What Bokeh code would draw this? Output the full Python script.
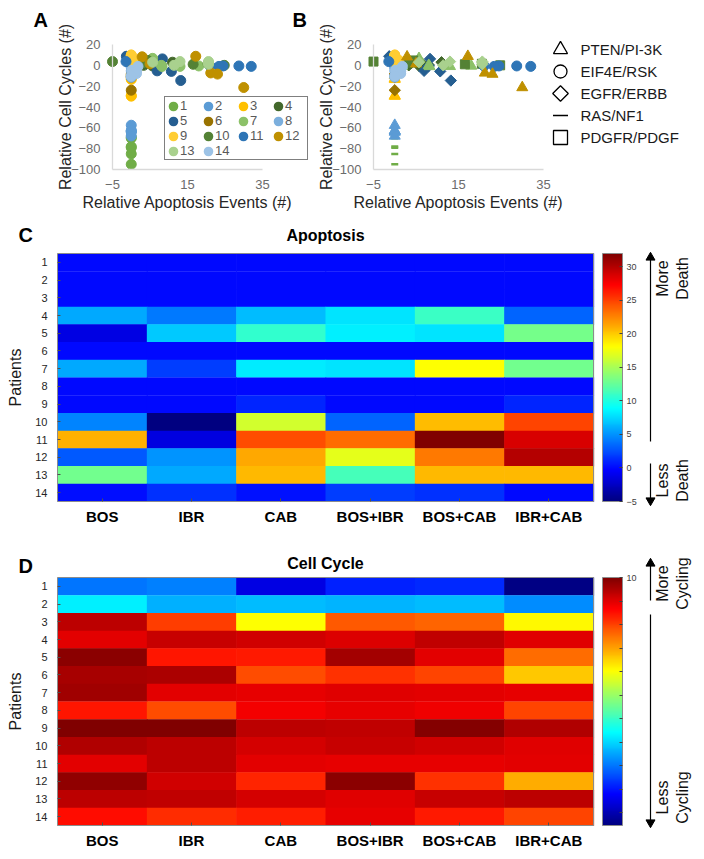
import numpy as np
from bokeh.plotting import figure
from bokeh.models import (Range1d, LinearColorMapper, Legend, LegendItem,
                          ColumnDataSource, FixedTicker, ColorBar)
from bokeh.layouts import row, column
from bokeh.transform import transform
from bokeh.core.properties import value
from bokeh.embed import file_html
from bokeh.resources import INLINE

FONT = "Liberation Sans"

# ---------------- data ----------------
treatments = ["BOS", "IBR", "CAB", "BOS+IBR", "BOS+CAB", "IBR+CAB"]
patients = [str(i) for i in range(1, 15)]

# relative apoptosis events (panel C, x of panels A/B)
apoptosis = [
    [0.0, 0.0, 0.0, 0.0, 0.0, 0.0],
    [0.0, 0.0, 0.0, 0.0, 0.0, 0.0],
    [0.0, 0.0, 0.0, 0.0, 0.0, 0.0],
    [5.7, 4.0, 6.5, 8.0, 11.0, 3.3],
    [-1.3, 6.9, 10.7, 8.3, 8.0, 13.2],
    [0.0, 0.0, 0.0, 0.0, 0.0, 0.0],
    [5.7, 1.8, 8.2, 8.0, 18.0, 13.0],
    [0.0, 0.0, 0.0, 0.0, 0.0, 0.0],
    [0.0, 0.0, 1.0, 0.0, 0.0, 1.0],
    [4.4, -5.0, 16.5, 3.3, 20.5, 24.8],
    [21.0, -1.4, 24.5, 23.4, 32.0, 28.7],
    [2.9, 5.0, 21.2, 17.2, 23.0, 30.0],
    [13.0, 5.7, 20.6, 11.4, 20.6, 20.6],
    [0.2, 1.4, 0.3, 1.8, 1.4, 0.0],
]

# relative cell cycles (panel D, y of panels A/B)
cell_cycle = [
    [-70.0, -69.0, -85.0, -79.0, -78.0, -95.0],
    [-57.5, -64.0, -62.7, -63.7, -62.7, -67.8],
    [3.6, -9.4, -29.6, -12.5, -13.5, -29.0],
    [-0.6, 2.5, 1.5, 0.4, 3.0, 0.0],
    [8.7, -5.3, -5.8, 6.2, -0.6, -14.6],
    [5.7, 5.2, -11.4, -8.4, -10.4, -23.9],
    [6.7, -0.6, -1.1, 0.0, -0.6, -1.0],
    [-5.3, -11.4, -2.1, -1.0, -1.6, -10.4],
    [10.0, 9.7, 3.6, 3.0, 9.2, 4.7],
    [4.7, 3.6, 1.0, 2.5, 1.5, 0.0],
    [-0.6, 3.6, -0.6, -1.0, -1.0, -0.6],
    [8.2, 1.5, -7.3, 8.7, -8.4, -21.3],
    [3.6, 3.0, 1.0, 0.0, 2.5, 3.6],
    [-4.8, -7.9, -6.3, -1.0, -5.8, -10.4],
]

patient_colors = ["#70AD47", "#5B9BD5", "#FFC000", "#43682B", "#255E91", "#997300",
                  "#8CC168", "#7CAFDD", "#FFCD33", "#548235", "#2E75B6", "#BF9000",
                  "#A9D18E", "#9DC3E6"]

pathway_names = ["PTEN/PI-3K", "EIF4E/RSK", "EGFR/ERBB", "RAS/NF1", "PDGFR/PDGF"]
pathway_markers = ["triangle", "circle", "diamond", "dash", "square"]
patient_pathway = ["RAS/NF1", "PTEN/PI-3K", "PTEN/PI-3K", "EGFR/ERBB", "EGFR/ERBB",
                   "EGFR/ERBB", "PTEN/PI-3K", "EIF4E/RSK", "EIF4E/RSK", "PDGFR/PDGF",
                   "EIF4E/RSK", "PTEN/PI-3K", "EGFR/ERBB", "EIF4E/RSK"]

scatter_x_limits = (-5, 35)
scatter_y_limits = (-100, 20)
scatter_x_ticks = [-5, 15, 35]
scatter_y_ticks = [-100, -80, -60, -40, -20, 0, 20]
apop_ticks = [-5, 0, 5, 10, 15, 20, 25, 30]
apop_limits = (-5, 32)
cycle_ticks = [10, 0, -10, -20, -30, -40, -50, -60, -70, -80, -90]
cycle_limits = (-95.5, 10)


def jet_palette(n=256):
    pal = []
    for k in range(n):
        t = k / (n - 1)
        r = min(max(1.5 - abs(4 * t - 3), 0), 1)
        g = min(max(1.5 - abs(4 * t - 2), 0), 1)
        b = min(max(1.5 - abs(4 * t - 1), 0), 1)
        pal.append("#%02x%02x%02x" % (int(round(r * 255)), int(round(g * 255)), int(round(b * 255))))
    return pal


JET = jet_palette()
# Excel-like marker drawing: (bokeh marker, angle, size in plot, size in key)
MARKER_STYLE = {"triangle": ("triangle", 0.0, 11, 14), "circle": ("circle", 0.0, 10, 13),
                "diamond": ("square", np.pi / 4, 8, 11), "dash": ("dash", 0.0, 7, 15),
                "square": ("square", 0.0, 9, 14)}
NAN = np.array([np.nan])


def span_range(v0, p0, v1, p1, P0, P1):
    """data value v0 sits at pixel p0 and v1 at p1; return data values at pixels P0, P1"""
    k = (v1 - v0) / (p1 - p0)
    return v0 + (P0 - p0) * k, v0 + (P1 - p0) * k


def canvas(x0, y0, w, h, data_box, limits_x, limits_y):
    """figure whose frame fills its whole canvas; data_box = (left, right, top, bottom) page px"""
    L, R, T, B = data_box
    xs, xe = span_range(limits_x[0], L, limits_x[1], R, x0, x0 + w)
    yt, yb = span_range(limits_y[1], T, limits_y[0], B, y0, y0 + h)
    p = figure(width=w, height=h, x_range=Range1d(xs, xe), y_range=Range1d(yb, yt),
               output_backend="svg", toolbar_location=None,
               min_border=0, min_border_left=0, min_border_right=0,
               min_border_top=0, min_border_bottom=0)
    p.outline_line_color = None
    p.xgrid.visible = False
    p.ygrid.visible = False
    p.extra_x_ranges = {"px": Range1d(x0, x0 + w)}
    p.extra_y_ranges = {"px": Range1d(y0 + h, y0)}
    return p


def deco_text(p, x, y, text, size, bold=False, align="left", angle=0.0, color="black"):
    p.text(x=[x], y=[y], text=[text], x_range_name="px", y_range_name="px",
           text_font=value(FONT), text_font_size=size,
           text_font_style="bold" if bold else "normal", text_color=color,
           text_align=align, text_baseline="middle", angle=angle)


def deco_arrow(p, x, y_from, y_to):
    head = "triangle" if y_to < y_from else "inverted_triangle"
    p.segment(x0=[x], y0=[y_from], x1=[x], y1=[y_to], x_range_name="px", y_range_name="px",
              line_color="black", line_width=1.2)
    p.scatter(x=[x], y=[y_to], marker=head, size=9, fill_color="black", line_color="black",
              x_range_name="px", y_range_name="px")


def style_scatter(p):
    p.xaxis.fixed_location = scatter_y_limits[0]
    p.yaxis.fixed_location = scatter_x_limits[0]
    p.xaxis.bounds = scatter_x_limits
    p.yaxis.bounds = scatter_y_limits
    p.xaxis.ticker = FixedTicker(ticks=scatter_x_ticks)
    p.yaxis.ticker = FixedTicker(ticks=scatter_y_ticks)
    p.xaxis.axis_label = "Relative Apoptosis Events (#)"
    p.yaxis.axis_label = "Relative Cell Cycles (#)"
    for ax in (p.xaxis[0], p.yaxis[0]):
        ax.axis_line_color = "#D9D9D9"
        ax.axis_line_width = 1.3
        ax.major_tick_line_color = None
        ax.minor_tick_line_color = None
        ax.major_tick_out = 0
        ax.major_tick_in = 0
        ax.major_label_text_font = FONT
        ax.major_label_text_font_size = "13px"
        ax.major_label_text_color = "#6b6b6b"
        ax.axis_label_text_font = FONT
        ax.axis_label_text_font_size = "16px"
        ax.axis_label_text_font_style = "normal"
        ax.axis_label_text_color = "#262626"
    p.xaxis.major_label_standoff = 10
    p.xaxis.axis_label_standoff = 2
    p.yaxis.major_label_standoff = 12
    p.yaxis.axis_label_standoff = -6


# ---------------- panel A ----------------
pA = canvas(0, 0, 310, 220, (112, 262, 44, 169), scatter_x_limits, scatter_y_limits)
style_scatter(pA)
itemsA = []
for i, pid in enumerate(patients):
    src = ColumnDataSource(dict(x=apoptosis[i], y=cell_cycle[i]))
    pA.scatter("x", "y", source=src, marker="circle", size=10,
               fill_color=patient_colors[i], line_color=patient_colors[i])
    key = pA.scatter(x=NAN, y=NAN, marker="circle", size=6, fill_color=patient_colors[i],
                     line_color=patient_colors[i], line_width=4)
    itemsA.append(LegendItem(label=pid, renderers=[key]))
legA = Legend(items=itemsA, orientation="horizontal", ncols=4, location=(164, 60),
              glyph_width=14, glyph_height=14, label_standoff=0, label_width=21,
              label_height=14, spacing=0, padding=1, margin=0,
              border_line_color="black", border_line_width=1.2,
              background_fill_color="white", background_fill_alpha=1.0,
              label_text_font=FONT, label_text_font_size="13px", label_text_color="#595959")
pA.add_layout(legA)
deco_text(pA, 33, 19, "A", "20px", bold=True)
deco_text(pA, 292, 19, "B", "20px", bold=True)

# ---------------- panel B ----------------
pB = canvas(310, 0, 394, 220, (373, 543, 44, 169), scatter_x_limits, scatter_y_limits)
style_scatter(pB)
for i, pid in enumerate(patients):
    mk, ang, sz, _ = MARKER_STYLE[pathway_markers[pathway_names.index(patient_pathway[i])]]
    src = ColumnDataSource(dict(x=apoptosis[i], y=cell_cycle[i]))
    pB.scatter("x", "y", source=src, marker=mk, angle=ang, size=sz,
               fill_color=patient_colors[i], line_color=patient_colors[i],
               line_width=2.5 if mk == "dash" else 1)

# shape key (pathway -> marker), drawn in page pixels to the right of panel B
for k, (name, shape) in enumerate(zip(pathway_names, pathway_markers)):
    mk, ang, _, ksz = MARKER_STYLE[shape]
    ky = 49 + 22 * k
    pB.scatter(x=[560], y=[ky], marker=mk, angle=ang, size=ksz, fill_color=None,
               line_color="black", line_width=1.3, x_range_name="px", y_range_name="px")
    deco_text(pB, 580, ky, name, "15px", color="#1a1a1a")


# ---------------- heatmaps ----------------
def make_heatmap(values, limits, ticks, title, letter, y0, height, box_top, box_bottom,
                 more_text, less_text, up_arrow, down_arrow, more_y, less_y, letter_y, title_y):
    ncol, nrow = len(treatments), len(patients)
    p = canvas(0, y0, 704, height, (57, 593, box_top, box_bottom),
               (-0.5, ncol - 0.5), (-0.5, nrow - 0.5))
    mapper = LinearColorMapper(palette=JET, low=limits[0], high=limits[1])
    xs, ys, vs = [], [], []
    for i in range(nrow):
        for j in range(ncol):
            xs.append(j)
            ys.append(nrow - 1 - i)
            vs.append(values[i][j])
    src = ColumnDataSource(dict(col=xs, row=ys, value=vs))
    p.rect(x="col", y="row", width=1, height=1, source=src,
           fill_color=transform("value", mapper), line_color=None, dilate=True)
    p.rect(x=[(ncol - 1) / 2], y=[(nrow - 1) / 2], width=ncol, height=nrow,
           fill_color=None, line_color="#8c8c8c", line_width=1)

    p.xaxis.fixed_location = -0.5
    p.yaxis.fixed_location = -0.5
    p.xaxis.bounds = (-0.5, ncol - 0.5)
    p.yaxis.bounds = (-0.5, nrow - 0.5)
    p.xaxis.ticker = FixedTicker(ticks=list(range(ncol)))
    p.yaxis.ticker = FixedTicker(ticks=list(range(nrow)))
    p.xaxis.major_label_overrides = {j: t for j, t in enumerate(treatments)}
    p.yaxis.major_label_overrides = {nrow - 1 - i: pid for i, pid in enumerate(patients)}
    for ax in (p.xaxis[0], p.yaxis[0]):
        ax.axis_line_color = None
        ax.major_tick_in = 3
        ax.major_tick_out = 0
        ax.major_tick_line_color = "#505050"
        ax.minor_tick_line_color = None
        ax.major_label_text_font = FONT
    p.xaxis.major_label_text_font_size = "15px"
    p.xaxis.major_label_text_font_style = "bold"
    p.xaxis.major_label_text_color = "black"
    p.xaxis.major_label_standoff = 6
    p.yaxis.major_label_text_font_size = "11px"
    p.yaxis.major_label_text_color = "#262626"
    p.yaxis.major_label_standoff = 10
    p.yaxis.axis_label = "Patients"
    p.yaxis.axis_label_text_font = FONT
    p.yaxis.axis_label_text_font_size = "16px"
    p.yaxis.axis_label_text_font_style = "normal"
    p.yaxis.axis_label_text_color = "#1a1a1a"
    p.yaxis.axis_label_standoff = 8

    cb = ColorBar(color_mapper=mapper, ticker=FixedTicker(ticks=ticks), width=20,
                  height=box_bottom - box_top, location=(602, y0 + height - box_bottom),
                  padding=0, margin=0,
                  major_label_text_font=FONT, major_label_text_font_size="9px",
                  major_label_text_color="#404040", label_standoff=4,
                  major_tick_line_color="#404040", major_tick_in=3, major_tick_out=0,
                  bar_line_color="#8c8c8c", border_line_color=None, background_fill_alpha=0)
    p.add_layout(cb)

    deco_arrow(p, 650, *up_arrow)
    deco_arrow(p, 650, *down_arrow)
    deco_text(p, 672, more_y, more_text, "16px", align="center", angle=np.pi / 2, color="#111111")
    deco_text(p, 672, less_y, less_text, "16px", align="center", angle=np.pi / 2, color="#111111")
    deco_text(p, 18, letter_y, letter, "20px", bold=True)
    deco_text(p, 325, title_y, title, "16px", bold=True, align="center")
    return p


pC = make_heatmap(apoptosis, apop_limits, apop_ticks, "Apoptosis", "C", 220, 325, 253, 501,
                  "More\nDeath", "Less\nDeath", (441, 257), (463, 500), 278, 480, 234, 235)
pD = make_heatmap(cell_cycle, cycle_limits, cycle_ticks, "Cell Cycle", "D", 545, 314, 577, 825,
                  "More\nCycling", "Less\nCycling", (600, 563), (614, 822), 583, 797, 565, 563)

page = column(row(pA, pB), pC, pD)
open("out.html", "w").write(file_html(page, INLINE))
